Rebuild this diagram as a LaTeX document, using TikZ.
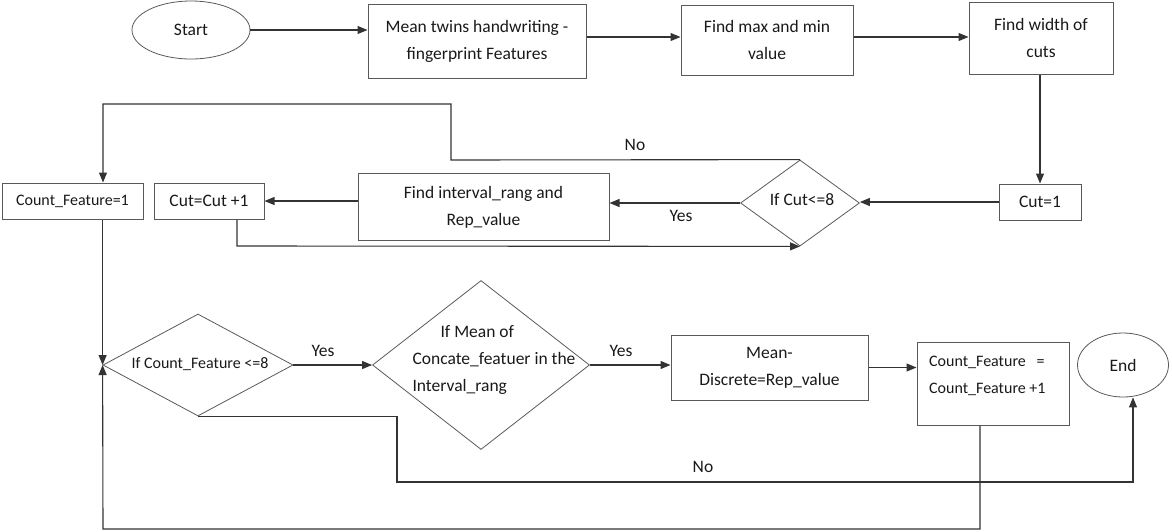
\documentclass[tikz,border=0pt]{standalone}
\usepackage{fontspec}
\setmainfont{Carlito}
\usetikzlibrary{shapes.geometric,arrows.meta,calc}
\begin{document}
\begin{tikzpicture}[x=1pt,y=-1pt,
  every node/.style={font=\fontsize{17.5}{27}\selectfont, text=black!90},
  small/.style={font=\fontsize{16}{27}\selectfont},
  box/.style={draw=black!65, line width=1pt, rectangle, inner sep=0, align=center},
  oval/.style={draw=black!65, line width=0.8pt, ellipse, inner sep=0},
  dia/.style={draw=black!65, line width=0.8pt, diamond, inner sep=0},
  arr/.style={draw=black!80, line width=1.1pt, -{Triangle[length=10pt,width=8pt]}},
  lbl/.style={inner sep=0}]
\useasboundingbox (0,0) rectangle (1172,531);
% nodes
\node[oval, minimum width=118, minimum height=58] (start) at (191,30) {Start};
\node[box, minimum width=218, minimum height=74] (b1) at (477,41) {Mean twins handwriting -\\fingerprint Features};
\node[box, minimum width=172, minimum height=70] (b2) at (767,40) {Find max and min\\value};
\node[box, minimum width=144, minimum height=72] (b3) at (1041,38) {Find width of\\cuts};
\node[box, minimum width=82, minimum height=36] (cut1) at (1040,202) {Cut=1};
\node[dia, minimum width=119, minimum height=86] (d1) at (800,203) {};
\node[lbl] (d1t) at (802,200) {If Cut<=8};
\node[box, minimum width=251, minimum height=67] (fi) at (483.5,207) {Find interval\_rang and\\Rep\_value};
\node[box, minimum width=110, minimum height=36] (cutinc) at (209,201) {Cut=Cut +1};
\node[box, small, minimum width=141, minimum height=36] (cf1) at (72.5,201) {Count\_Feature=1};
\node[dia, minimum width=190, minimum height=102] (d2) at (198,365) {};
\node[lbl, small] (d2t) at (200,364) {If Count\_Feature <=8};
\node[dia, minimum width=217, minimum height=169] (d3) at (481,365) {};
\node[lbl, align=left] (d3t) at (494,360) {\hspace*{28pt}If Mean of\\Concate\_featuer in the\\Interval\_rang};
\node[box, minimum width=197, minimum height=65] (md) at (769.5,367.5) {Mean-\\Discrete=Rep\_value};
\node[box, minimum width=152, minimum height=83] (cfinc) at (993,383.5) {};
\node[lbl, small, anchor=west, align=left] (cfinct) at (929,375.5) {Count\_Feature\ \ \ =\\Count\_Feature +1};
\node[oval, minimum width=91, minimum height=64] (end) at (1123,365) {End};
% labels
\node[lbl] (no1) at (635,145) {No};
\node[lbl] (yes1) at (681,216) {Yes};
\node[lbl] (yes2) at (323,351) {Yes};
\node[lbl] (yes3) at (621,351) {Yes};
\node[lbl] (no2) at (703,467) {No};
% helper coordinates
\coordinate (r1) at (0,37);
\coordinate (c1) at (237,246);
\coordinate (n1) at (451,160);
\coordinate (n2) at (451,104);
\coordinate (n3) at (103,104);
\coordinate (m1) at (397,482);
\coordinate (e1) at (1133,482);
\coordinate (l1) at (980,529);
\coordinate (l2) at (103,529);
% connectors
\draw[arr] (start.east) -- (start.east -| b1.west);
\draw[arr] (b1.east |- r1) -- (b2.west |- r1);
\draw[arr] (b2.east |- r1) -- (b3.west |- r1);
\draw[arr] (b3.south -| cut1.north) -- (cut1.north);
\draw[arr] (cut1.west) -- (cut1.west -| d1.east);
\draw[arr] (d1.west) -- (d1.west -| fi.east);
\draw[arr] (cutinc.east -| fi.west) -- (cutinc.east);
\draw[arr] (cutinc.south -| c1) -- (c1) -- (d1.south);
\draw[arr] (d1.north) -- (n1) -- (n2) -- (n3) -- (n3 |- cf1.north);
\draw[arr] (cf1.south -| d2.west) -- (d2.west);
\draw[arr] (d2.east) -- (d3.west);
\draw[arr] (d3.east) -- (d3.east -| md.west);
\draw[arr] (md.east) -- (md.east -| cfinc.west);
\draw[arr] (d2.south) -- (d2.south -| m1) -- (m1) -- (e1) -- (e1 |- end.south);
\draw[arr] (cfinc.south -| l1) -- (l1) -- (l2) -- (d2.west);
\end{tikzpicture}
\end{document}
